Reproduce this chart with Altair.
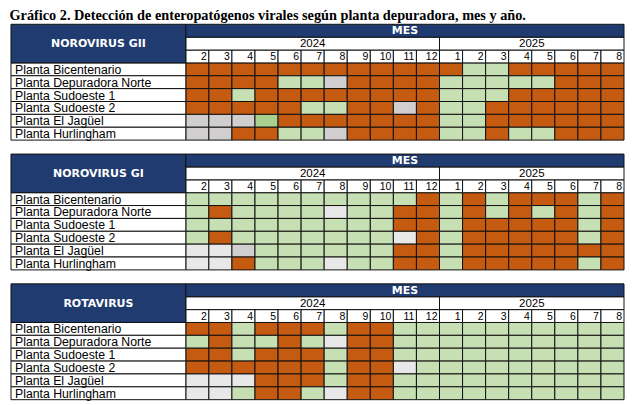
import altair as alt
import pandas as pd

TITLE = "Gráfico 2. Detección de enteropatógenos virales según planta depuradora, mes y año."
HEADER = "MES"
YEARS = ["2024", "2025"]
MONTHS_2024 = ["2", "3", "4", "5", "6", "7", "8", "9", "10", "11", "12"]
MONTHS_2025 = ["1", "2", "3", "4", "5", "6", "7", "8"]
PLANTS = [
    "Planta Bicentenario",
    "Planta Depuradora Norte",
    "Planta Sudoeste 1",
    "Planta Sudoeste 2",
    "Planta El Jagüel",
    "Planta Hurlingham",
]
VIRUSES = ["NOROVIRUS GII", "NOROVIRUS GI", "ROTAVIRUS"]

# D = detectado, N = no detectado, n = no detectado (tono alterno),
# S = sin muestra, s = sin muestra (tono claro); 2024 | 2025
NOROVIRUS_GII = [
    "DDDDDDDDDDD DNNDDDDD",
    "DDDDNNSDDDD NNNNNDDD",
    "DDNDDDDDDDD NNNDDDDD",
    "DDDDDNNDDSD NNDDDDDD",
    "SSSnDDDDDDD NNDDDDDD",
    "SSDDNNSDDDD NNDNNDDD",
]
NOROVIRUS_GI = [
    "NNNNNNNNNND NDNDDDND",
    "NDNNNNsNNDD NDNDNDND",
    "NNNNNNNNNDD NDDDDDND",
    "NDNNNNNNNsD NDDDDDND",
    "ssSNNNNNNDD NDDDDDDD",
    "ssDNNNsNNDD NDDDDDND",
]
ROTAVIRUS = [
    "DDNDDDNDDNN NNNNNNNN",
    "NDNNDNsDDNN NNNNNNNN",
    "DDNDDDNDDNN NNNNNNNN",
    "DDDDDDNDDsN NNNNNNNN",
    "sssDDDNDDNN NNNNNNNN",
    "ssNDDNsDDNN NNNNNNNN",
]
GRIDS = [NOROVIRUS_GII, NOROVIRUS_GI, ROTAVIRUS]

CODES = ["D", "N", "n", "S", "s"]
COLORS = ["#C55A11", "#C6E0B4", "#A9D08E", "#D0CECE", "#E9E8E8"]
NAVY = "#1F3B70"

MONTHS = MONTHS_2024 + MONTHS_2025
NCOL = len(MONTHS)
LBL = 7.58          # label column width, in month-column units
NHEAD = 3           # header rows: MES / year / month
NROW = NHEAD + len(PLANTS)

XS = alt.Scale(domain=[-LBL, NCOL], nice=False, zero=False)
YS = alt.Scale(domain=[0, NROW], nice=False, zero=False, reverse=True)

SANS = "Liberation Sans"
WIDE = "DejaVu Sans"


def X(f):
    return alt.X(f, type="quantitative", scale=XS, axis=None)


def Y(f):
    return alt.Y(f, type="quantitative", scale=YS, axis=None)


def table(virus, grid):
    cell_rows = []
    for r, s in enumerate(grid):
        codes = s.replace(" ", "")
        for c, code in enumerate(codes):
            cell_rows.append({"x": c, "x2": c + 1, "y": r + NHEAD, "y2": r + NHEAD + 1, "code": code})
    cells = pd.DataFrame(cell_rows)

    plants = pd.DataFrame({"plant": PLANTS, "y": [i + NHEAD for i in range(len(PLANTS))]})
    plants["y2"] = plants["y"] + 1
    plants["yc"] = plants["y"] + 0.5
    plants["x"] = -LBL
    plants["x2"] = 0

    months = pd.DataFrame({"m": MONTHS, "x": list(range(NCOL))})
    months["x2"] = months["x"] + 1
    months["y"] = NHEAD - 1
    months["y2"] = NHEAD
    months["yc"] = NHEAD - 0.5

    n24 = len(MONTHS_2024)
    years = pd.DataFrame({"yr": YEARS, "x": [0, n24], "x2": [n24, NCOL]})
    years["y"] = 1
    years["y2"] = 2
    years["xc"] = (years["x"] + years["x2"]) / 2
    years["yc"] = 1.5

    navy = pd.DataFrame({
        "t": [virus, HEADER],
        "x": [-LBL, 0], "x2": [0, NCOL],
        "y": [0, 0], "y2": [NHEAD, 1],
    })
    navy["xc"] = (navy["x"] + navy["x2"]) / 2
    navy["yc"] = (navy["y"] + navy["y2"]) / 2

    stroke = dict(stroke="#111111", strokeWidth=1)

    l_cells = alt.Chart(cells).mark_rect(**stroke).encode(
        x=X("x"), x2="x2", y=Y("y"), y2="y2",
        color=alt.Color("code:N", scale=alt.Scale(domain=CODES, range=COLORS), legend=None),
    )
    l_plants = alt.Chart(plants).mark_rect(fill="white", **stroke).encode(
        x=X("x"), x2="x2", y=Y("y"), y2="y2")
    l_months = alt.Chart(months).mark_rect(fill="white", **stroke).encode(
        x=X("x"), x2="x2", y=Y("y"), y2="y2")
    l_years = alt.Chart(years).mark_rect(fill="white", **stroke).encode(
        x=X("x"), x2="x2", y=Y("y"), y2="y2")
    l_navy = alt.Chart(navy).mark_rect(fill=NAVY, **stroke).encode(
        x=X("x"), x2="x2", y=Y("y"), y2="y2")

    t_plants = alt.Chart(plants).mark_text(
        align="left", baseline="middle", dx=4, dy=0.5, font=SANS, fontSize=12.3, color="black"
    ).encode(x=X("x"), y=Y("yc"), text="plant:N")
    t_months = alt.Chart(months).mark_text(
        align="right", baseline="middle", dx=-2, dy=0.5, font=SANS, fontSize=10.5, color="black"
    ).encode(x=X("x2"), y=Y("yc"), text="m:N")
    t_years = alt.Chart(years).mark_text(
        align="center", baseline="middle", dy=0.5, font=SANS, fontSize=11.5, color="black"
    ).encode(x=X("xc"), y=Y("yc"), text="yr:N")
    t_navy = alt.Chart(navy).mark_text(
        align="center", baseline="middle", dy=0.5, font=WIDE, fontWeight="bold", fontSize=11, color="white"
    ).encode(x=X("xc"), y=Y("yc"), text="t:N")

    return alt.layer(
        l_cells, l_plants, l_months, l_years, l_navy,
        t_plants, t_months, t_years, t_navy,
    ).properties(width=614, height=116)


charts = [table(v, g) for v, g in zip(VIRUSES, GRIDS)]

chart = alt.vconcat(*charts, spacing=12).properties(
    title=alt.TitleParams(
        TITLE, anchor="start", font="Liberation Serif", fontSize=14.3,
        fontWeight="bold", color="black", offset=0, dx=-1,
    ),
    padding={"left": 1, "top": 1, "right": 0, "bottom": 0},
).configure_view(stroke=None).configure_concat(spacing=12)

chart.save("out.html", embed_options={"renderer": "svg", "actions": False})
